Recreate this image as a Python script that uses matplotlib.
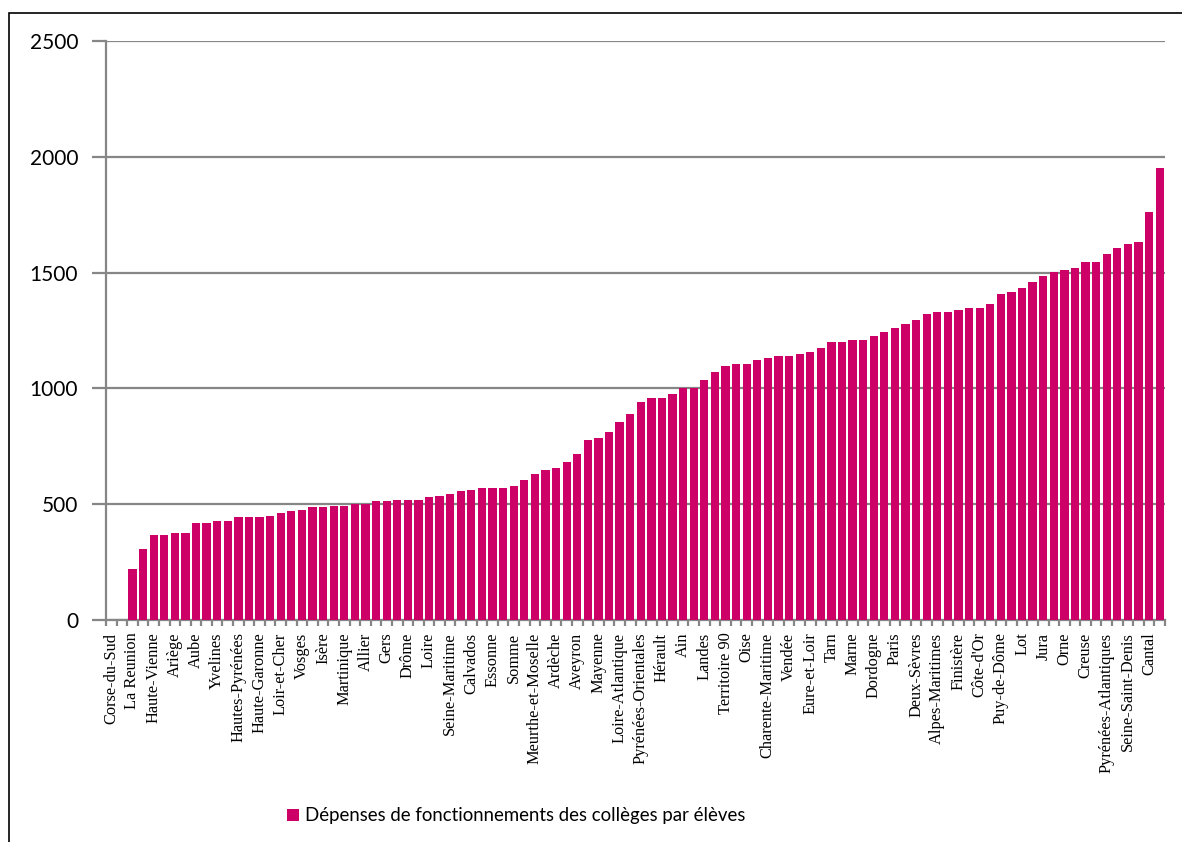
import numpy as np
import matplotlib
matplotlib.use("Agg")
import matplotlib.pyplot as plt
from matplotlib.patches import Rectangle

# départements affichés (un sur deux)
etiquettes = ["Corse-du-Sud", "La Reunion", "Haute-Vienne", "Ariège", "Aube",
              "Yvelines", "Hautes-Pyrénées", "Haute-Garonne", "Loir-et-Cher", "Vosges",
              "Isère", "Martinique", "Allier", "Gers", "Drôme",
              "Loire", "Seine-Maritime", "Calvados", "Essonne", "Somme",
              "Meurthe-et-Moselle", "Ardèche", "Aveyron", "Mayenne", "Loire-Atlantique",
              "Pyrénées-Orientales", "Hérault", "Ain", "Landes", "Territoire 90",
              "Oise", "Charente-Maritime", "Vendée", "Eure-et-Loir", "Tarn",
              "Marne", "Dordogne", "Paris", "Deux-Sèvres", "Alpes-Maritimes",
              "Finistère", "Côte-d'Or", "Puy-de-Dôme", "Lot", "Jura",
              "Orne", "Creuse", "Pyrénées-Atlantiques", "Seine-Saint-Denis", "Cantal"]

# dépenses par élève (100 départements, triés)
depenses = [0, 0, 220, 305, 365, 365, 374, 374, 417, 417,
            426, 426, 443, 443, 443, 451, 460, 469, 477, 486,
            486, 494, 494, 503, 503, 512, 512, 520, 520, 520,
            529, 537, 546, 555, 563, 572, 572, 572, 580, 606,
            632, 649, 658, 684, 718, 779, 787, 813, 856, 891,
            943, 960, 960, 977, 1003, 1003, 1037, 1071, 1097, 1106,
            1106, 1123, 1132, 1140, 1140, 1149, 1159, 1175, 1200, 1200,
            1208, 1208, 1226, 1243, 1261, 1278, 1296, 1321, 1331, 1331,
            1339, 1347, 1347, 1365, 1408, 1417, 1433, 1460, 1486, 1502,
            1511, 1521, 1545, 1545, 1580, 1607, 1623, 1633, 1762, 1952]

serie = "Dépenses de fonctionnements des collèges par élèves"
couleur = "#CC0066"
gris = "#868686"


def main():
    fig = plt.figure(figsize=(11.82, 8.42), dpi=100)
    ax = fig.add_axes([106 / 1182, 222 / 842, 1059 / 1182, 579 / 842])

    x = np.arange(len(depenses))
    ax.bar(x, depenses, width=0.78, color=couleur, label=serie, zorder=3)

    ax.set_xlim(-0.5, len(depenses) - 0.5)
    ax.set_ylim(0, 2500)
    ax.set_yticks([0, 500, 1000, 1500, 2000, 2500])
    ax.yaxis.grid(True, color=gris, linewidth=1.6, zorder=0)

    # étiquettes sur une catégorie sur deux, traits aux limites
    ax.set_xticks(x[::2])
    ax.set_xticklabels(etiquettes, rotation=90, fontsize=11.8,
                       family="Liberation Serif", va="top")
    ax.set_xticks(np.arange(-0.5, len(depenses), 1), minor=True)
    ax.tick_params(axis="x", which="major", length=0, pad=9)
    ax.tick_params(axis="x", which="minor", length=4, width=1.6, color=gris)
    ax.tick_params(axis="y", length=10, width=1.6, color=gris, pad=10)
    for lab in ax.get_yticklabels():
        lab.set_family("Lato")
        lab.set_fontsize(15)

    for cote in ["top", "right"]:
        ax.spines[cote].set_visible(False)
    for cote in ["left", "bottom"]:
        ax.spines[cote].set_color(gris)
        ax.spines[cote].set_linewidth(1.6)

    # légende
    fig.legend(loc="center", bbox_to_anchor=(516 / 1182, 1 - 816 / 842),
               frameon=False, handlelength=0.65, handleheight=0.65,
               handletextpad=0.3, prop={"family": "Lato", "size": 13.4})

    # cadre du graphique
    fig.patches.append(Rectangle((8.5 / 1182, -0.1), 1.2, 1.1 - 12.5 / 842,
                                 transform=fig.transFigure, fill=False,
                                 edgecolor="black", linewidth=1.2))

    fig.savefig("out.png", dpi=100)


if __name__ == '__main__':
    main()
